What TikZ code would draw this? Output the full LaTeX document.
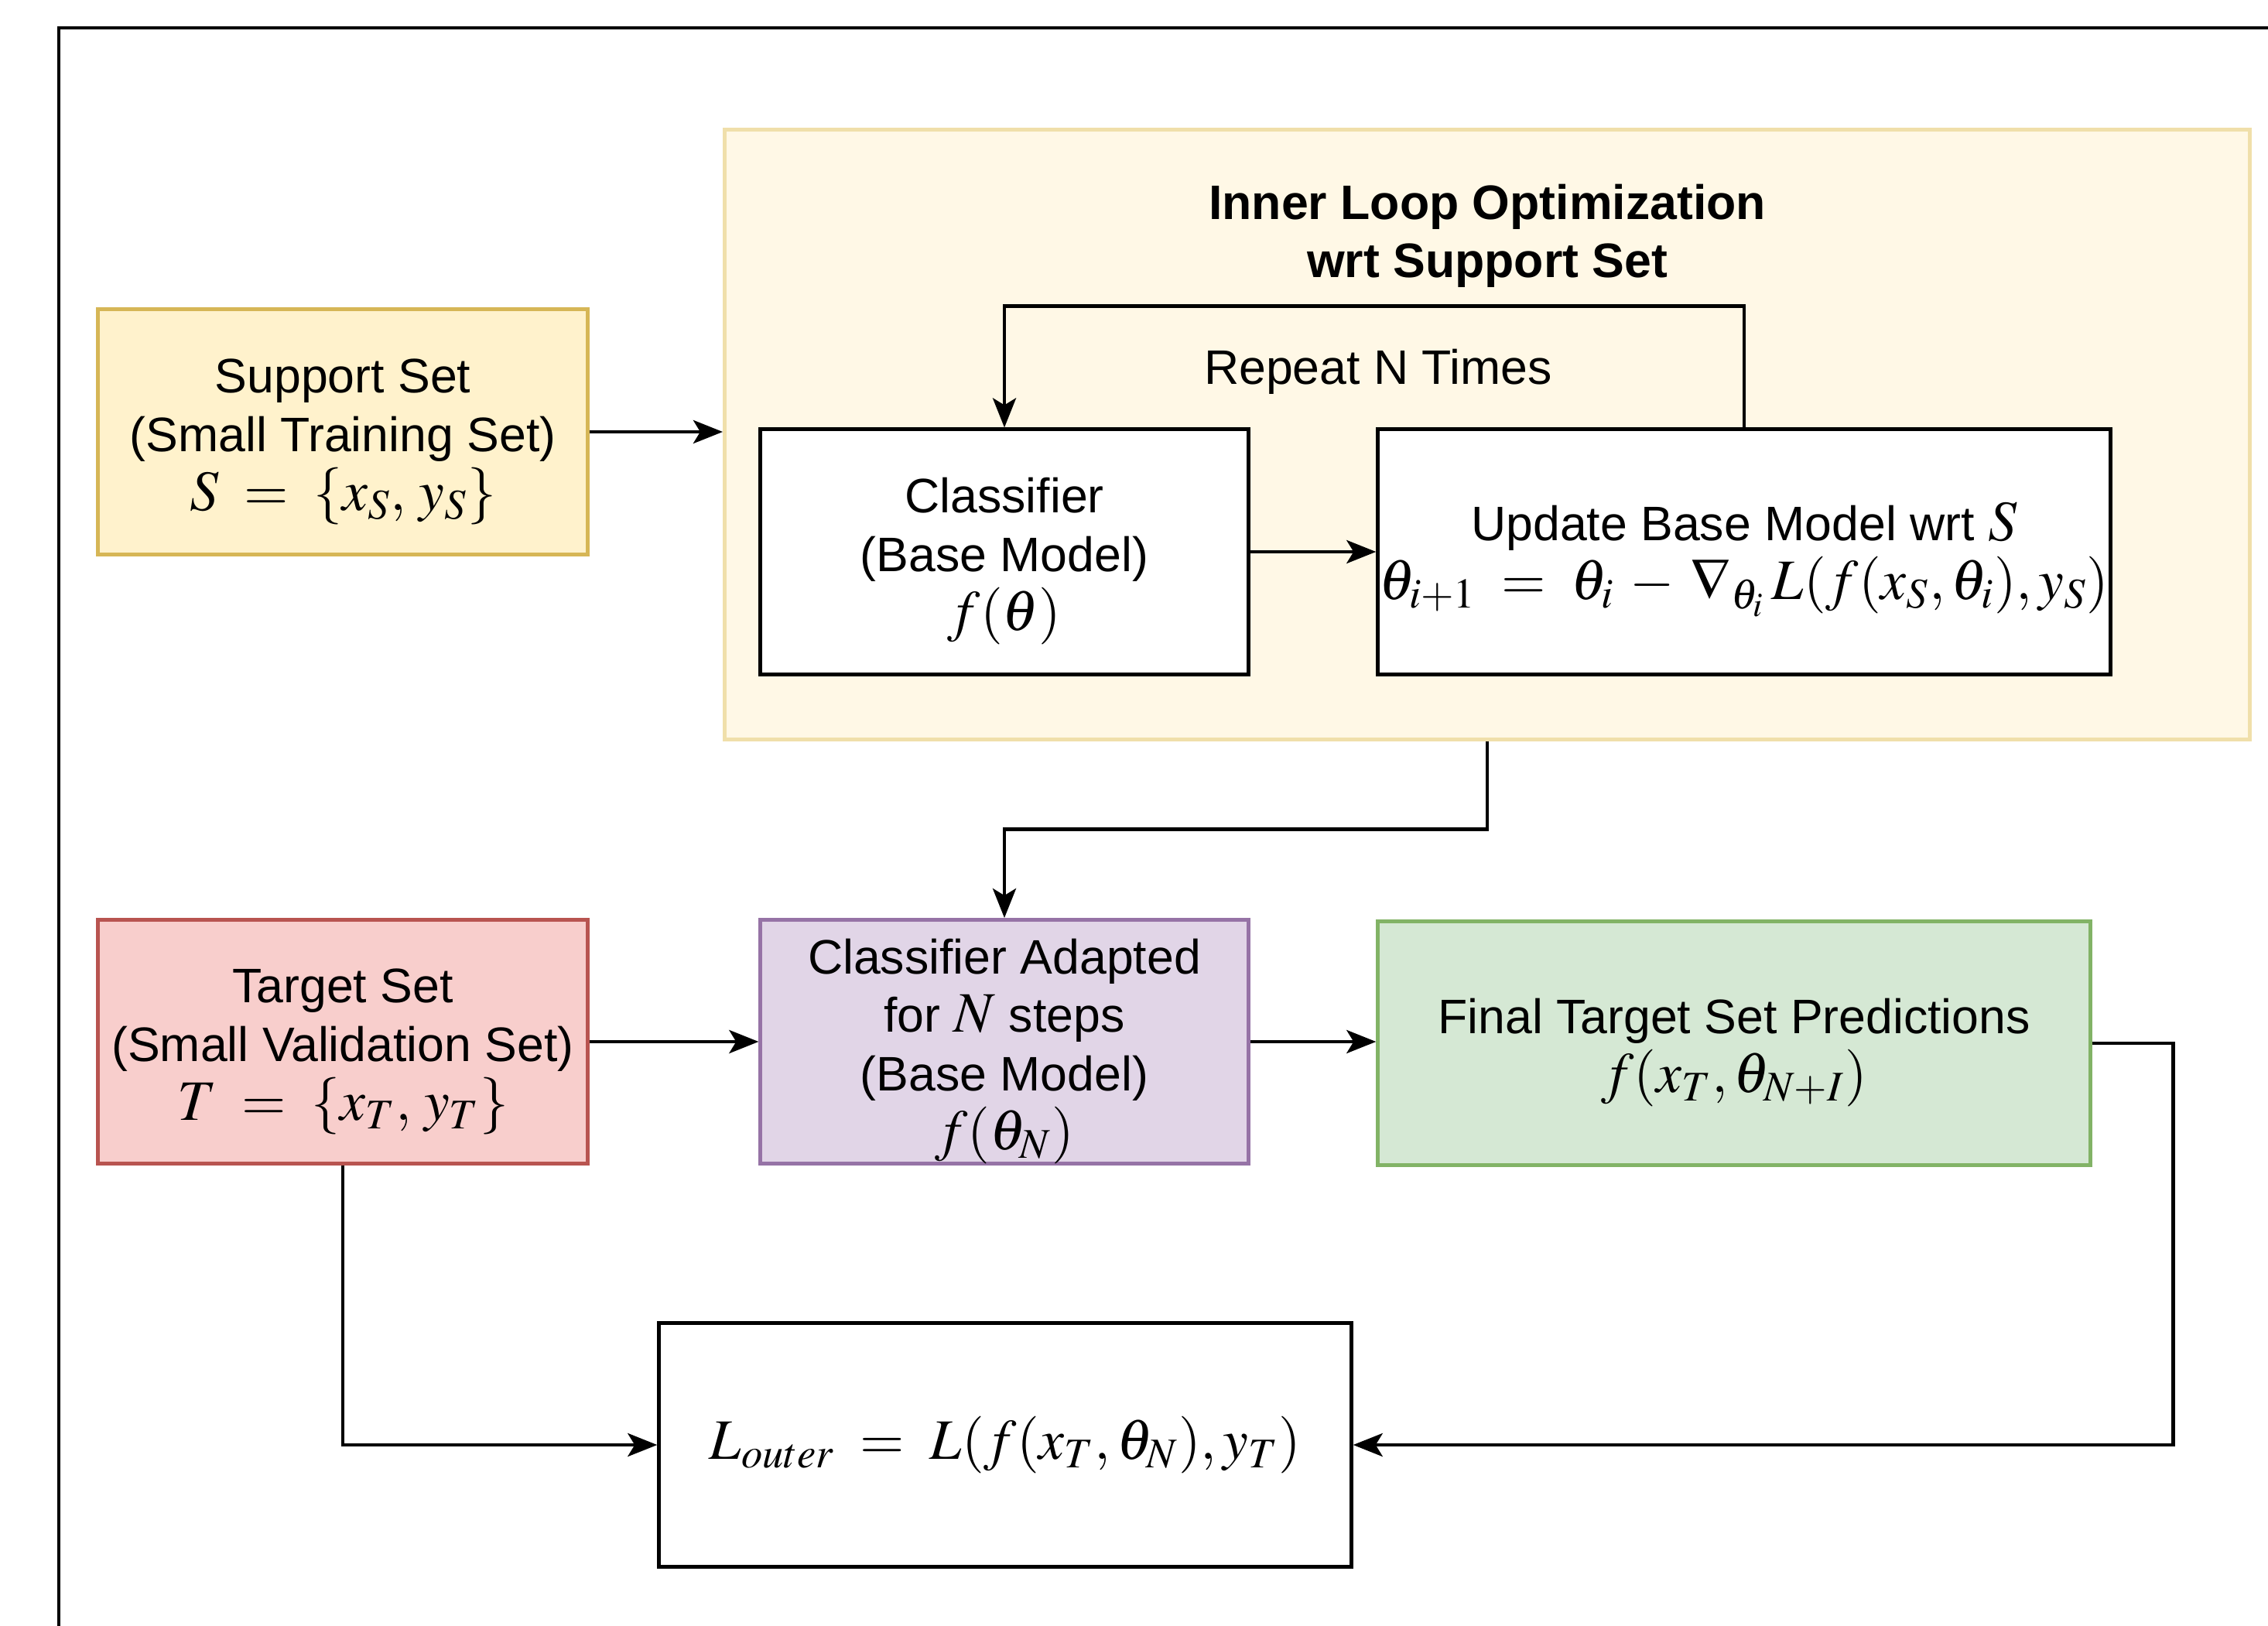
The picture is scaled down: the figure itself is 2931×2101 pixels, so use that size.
\documentclass[tikz,border=0pt]{standalone}
\usepackage{mathptmx}
\usepackage{fontspec}
\setmainfont{Liberation Sans}
\usetikzlibrary{arrows.meta}
\definecolor{supfill}{HTML}{FFF2CC}
\definecolor{supdraw}{HTML}{D6B656}
\definecolor{confill}{HTML}{FFF8E6}
\definecolor{condraw}{HTML}{F0DFAA}
\definecolor{tarfill}{HTML}{F8CECC}
\definecolor{tardraw}{HTML}{B85450}
\definecolor{adafill}{HTML}{E1D5E7}
\definecolor{adadraw}{HTML}{9673A6}
\definecolor{finfill}{HTML}{D5E8D4}
\definecolor{findraw}{HTML}{82B366}
\newcommand{\bm}[1]{{\fontsize{21}{21.5}\selectfont$#1$}}
\newcommand{\dn}{\rule{0pt}{19.8pt}}
\tikzset{
  box/.style={draw, rectangle, line width=1.4pt, align=center, inner sep=0pt,
    font=\fontsize{17.8}{21.5}\selectfont},
  arr/.style={line width=1.3pt, -{Stealth[length=0.38cm,width=0.3cm,inset=0.09cm]}}
}
\begin{document}
\begin{tikzpicture}[x=0.01cm, y=-0.01cm]
\useasboundingbox (0,0) rectangle (2931,2101);
% outer frame
\draw[line width=1.4pt] (76,2101) -- (76,36) -- (2931,36);
% container
\node[box, fill=confill, draw=condraw, minimum width=19.7cm, minimum height=7.87cm] (container) at (1922,561.5) {};
\node[font=\bfseries\fontsize{17.8}{21.5}\selectfont, align=center] (title) at (1922,305) {Inner Loop Optimization\\wrt Support Set};
\node[font=\fontsize{17.8}{21.5}\selectfont] (repeat) at (1781,480) {Repeat N Times};
% boxes
\node[box, fill=supfill, draw=supdraw, minimum width=6.32cm, minimum height=3.16cm] (support) at (443,558)
  {\dn Support Set\\(Small Training Set)\\\bm{S \;=\; \{x_S,\, y_S\}}};
\node[box, fill=white, minimum width=6.30cm, minimum height=3.16cm] (classifier) at (1298,713)
  {\dn Classifier\\(Base Model)\\\bm{f(\theta)}};
\node[box, fill=white, minimum width=9.46cm, minimum height=3.16cm] (update) at (2254,713)
  {\dn Update Base Model wrt \bm{S}\\\bm{\theta_{i+1} \;=\; \theta_i \:-\: \nabla_{\theta_i}\, L(f(x_S, \theta_i), y_S)}};
\node[box, fill=tarfill, draw=tardraw, minimum width=6.32cm, minimum height=3.14cm] (target) at (443,1346)
  {\dn Target Set\\(Small Validation Set)\\\bm{T \;=\; \{x_T,\, y_T\}}};
\node[box, fill=adafill, draw=adadraw, minimum width=6.30cm, minimum height=3.14cm] (adapted) at (1298,1346)
  {\dn Classifier Adapted\\for \bm{N} steps\\(Base Model)\\\bm{f(\theta_N)}};
\node[box, fill=finfill, draw=findraw, minimum width=9.20cm, minimum height=3.14cm] (final) at (2241,1348)
  {\dn Final Target Set Predictions\\\bm{f(x_T, \theta_{N+I})}};
\node[box, fill=white, minimum width=8.94cm, minimum height=3.14cm] (louter) at (1299,1867)
  {\bm{L_{outer} \;=\; L(f(x_T, \theta_N), y_T)}};
% connectors
\draw[arr] (support.east) -- (support.east -| container.west);
\draw[arr] (classifier.east) -- (update.west);
\draw[arr] (update.north) -- ++(0,-157) -| (classifier.north);
\draw[arr] (container.south) -- ++(0,114) -| (adapted.north);
\draw[arr] (target.east) -- (adapted.west);
\draw[arr] (adapted.east) -- (adapted.east -| final.west);
\draw[arr] (final.east) -- ++(105,0) |- (louter.east);
\draw[arr] (target.south) |- (louter.west);
\end{tikzpicture}
\end{document}
